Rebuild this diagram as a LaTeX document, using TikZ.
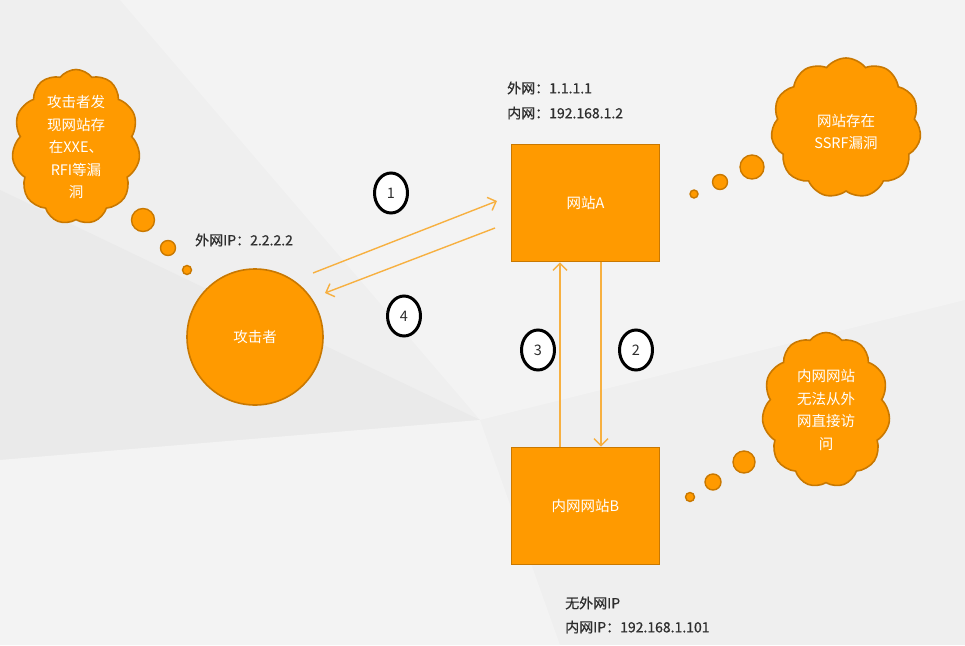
\documentclass[tikz,border=0pt]{standalone}
\usepackage{fontspec}
\setmainfont{Noto Sans CJK SC}
\newfontfamily\lblfont[FakeBold=0.6]{Noto Sans CJK SC}
\usetikzlibrary{shapes.symbols,shapes.geometric,arrows.meta}
\definecolor{bg}{HTML}{EFEFEF}
\definecolor{bglight}{HTML}{F3F3F3}
\definecolor{bgdark}{HTML}{EAEAEA}
\definecolor{org}{HTML}{FF9A00}
\definecolor{orgdark}{HTML}{C97800}
\definecolor{arr}{HTML}{F7B040}
\definecolor{txt}{HTML}{2E2E2E}
\tikzset{
  thought/.style={cloud, cloud puffs=11, cloud puff arc=105, cloud ignores aspect, fill=org, draw=orgdark,
     line width=1.6pt, inner sep=0pt},
  cloudtext/.style={text=white, align=center, font=\fontsize{14.5}{22.5}\selectfont, inner sep=0pt},
  bubble/.style={circle, fill=org, draw=orgdark, line width=1.4pt, inner sep=0pt},
  box/.style={rectangle, fill=org, draw=orgdark, line width=1.8pt, text=white,
     minimum width=148pt, minimum height=117pt, font=\fontsize{14.5}{16}\selectfont},
  num/.style={ellipse, fill=white, draw=black, line width=3pt, minimum width=33pt, minimum height=40pt,
     inner sep=0pt, text=txt, font=\fontsize{14.5}{16}\selectfont},
  lbl/.style={text=txt, anchor=west, inner sep=0pt, font=\lblfont\fontsize{14}{16}\selectfont},
  flow/.style={draw=arr, line width=1.4pt, -{Straight Barb[length=7pt,width=14pt,line width=1.4pt]}},
}
\begin{document}
\begin{tikzpicture}[x=1pt,y=-1pt]
\useasboundingbox (0,0) rectangle (965,645);
% background
\fill[bg] (0,0) rectangle (965,645);
\fill[bglight] (120,0) -- (965,0) -- (965,300) -- (480,420) -- cycle;
\fill[bgdark] (0,190) -- (480,420) -- (0,460) -- cycle;
\fill[bglight] (0,460) -- (480,420) -- (560,645) -- (0,645) -- cycle;

% clouds
\node[thought, minimum width=128pt, minimum height=155pt] (c1) at (76,147) {};
\node[cloudtext] (t1) at (c1.center) {攻击者发\\现网站存\\在XXE、\\RFI等漏\\洞};
\node[bubble, minimum size=23pt] (b11) at (143,220) {};
\node[bubble, minimum size=15pt] (b12) at (168,248) {};
\node[bubble, minimum size=9pt] (b13) at (187,270) {};

\node[thought, minimum width=150pt, minimum height=140pt] (c2) at (846,128) {};
\node[cloudtext] (t2) at ([yshift=-4pt]c2.center) {网站存在\\SSRF漏洞};
\node[bubble, minimum size=24pt] (b21) at (752,167) {};
\node[bubble, minimum size=15pt] (b22) at (720,182) {};
\node[bubble, minimum size=8pt] (b23) at (694,194) {};

\node[thought, minimum width=128pt, minimum height=155pt] (c3) at (826,410) {};
\node[cloudtext] (t3) at (c3.center) {内网网站\\无法从外\\网直接访\\问};
\node[bubble, minimum size=22pt] (b31) at (744,462) {};
\node[bubble, minimum size=16pt] (b32) at (713,482) {};
\node[bubble, minimum size=9pt] (b33) at (690,497) {};

% attacker
\node[circle, fill=org, draw=orgdark, line width=1.6pt, minimum size=136pt, text=white,
  font=\fontsize{14.5}{16}\selectfont] (att) at (255,337) {攻击者};
\node[lbl] (attip) at (195,240) {外网IP：2.2.2.2};

% websites
\node[box] (A) at (585.5,203) {网站A};
\node[lbl] (Aip1) at (507,88) {外网：1.1.1.1};
\node[lbl] (Aip2) at (507,113) {内网：192.168.1.2};

\node[box] (B) at (585.5,506) {内网网站B};
\node[lbl] (Bip1) at (565,603) {无外网IP};
\node[lbl] (Bip2) at (565,627) {内网IP：192.168.1.101};

% flows
\coordinate (p1s) at (313,273);
\coordinate (p1e) at (497,201);
\coordinate (p4s) at (495,228);
\coordinate (p4e) at (325,293);
\draw[flow] (p1s) -- (p1e);
\draw[flow] (p4s) -- (p4e);
\draw[flow] ([xshift=-25.5pt]B.north) -- ([xshift=-25.5pt]A.south);
\draw[flow] ([xshift=15.5pt]A.south) -- ([xshift=15.5pt]B.north);

% numbers
\node[num] (n1) at (391,193) {1};
\node[num] (n4) at (404,316) {4};
\node[num] (n3) at (538,350) {3};
\node[num] (n2) at (636,350) {2};
\end{tikzpicture}
\end{document}
